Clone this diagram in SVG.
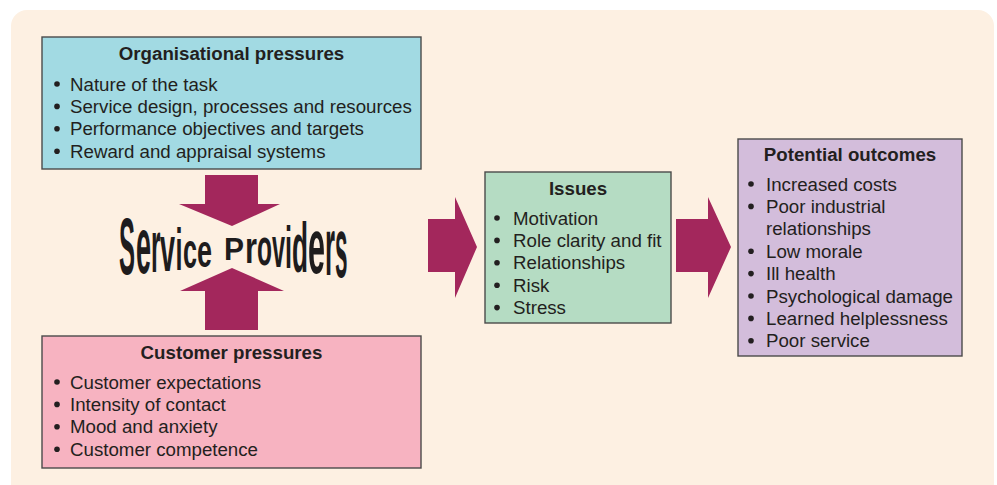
<svg xmlns="http://www.w3.org/2000/svg" width="997" height="485" viewBox="0 0 997 485">
<style>
.box{stroke:#4a4a4a;stroke-width:1.4}
.t{font-family:"Liberation Sans",Arial,Helvetica,sans-serif;font-size:18.7px;fill:#231f20}
.h{font-weight:bold;text-anchor:middle}
.b{fill:#231f20}
.arr{fill:#a3275c}
.sp{font-family:"Liberation Sans",Arial,Helvetica,sans-serif;font-weight:bold;fill:#1e1c1d}
</style>
<rect x="0" y="0" width="997" height="485" fill="#ffffff"/>
<rect x="11" y="10" width="983" height="490" rx="16" fill="#fdf0e2"/>

<g id="connectors">
<path class="arr" d="M205 175H258V204H280L232 226L179 204H205Z"/>
<path class="arr" d="M205 330H258V291H284L232 268L180 291H205Z"/>
<path class="arr" d="M428 219H455V197L477 247L455 298V272H428Z"/>
<path class="arr" d="M676 219H708V197L731 247L708 298V272H676Z"/>
</g>

<g id="organisational">
<rect class="box" x="42" y="37" width="379" height="132" fill="#a2dae3"/>
<text class="t h" x="231.5" y="59.6">Organisational pressures</text>
<g class="b"><circle cx="57" cy="84" r="2.8"/><circle cx="57" cy="106.4" r="2.8"/><circle cx="57" cy="128.8" r="2.8"/><circle cx="57" cy="151.2" r="2.8"/></g>
<text class="t" x="70" y="90.5">Nature of the task</text>
<text class="t" x="70" y="112.9">Service design, processes and resources</text>
<text class="t" x="70" y="135.3">Performance objectives and targets</text>
<text class="t" x="70" y="157.7">Reward and appraisal systems</text>
</g>

<g id="service-providers">
<text class="sp"><tspan x="119" y="274" font-size="79" textLength="16" lengthAdjust="spacingAndGlyphs">S</tspan><tspan x="136" y="273" font-size="79" textLength="15" lengthAdjust="spacingAndGlyphs">e</tspan><tspan x="151" y="272" font-size="75" textLength="9.5" lengthAdjust="spacingAndGlyphs">r</tspan><tspan x="160" y="271" font-size="65" textLength="15" lengthAdjust="spacingAndGlyphs">v</tspan><tspan x="175.5" y="270" font-size="60" textLength="7" lengthAdjust="spacingAndGlyphs">i</tspan><tspan x="183" y="268" font-size="50" textLength="14" lengthAdjust="spacingAndGlyphs">c</tspan><tspan x="197" y="267" font-size="46" textLength="15" lengthAdjust="spacingAndGlyphs">e</tspan><tspan> </tspan><tspan x="224" y="260" font-size="31" textLength="20" lengthAdjust="spacingAndGlyphs">P</tspan><tspan x="245" y="263" font-size="44" textLength="12" lengthAdjust="spacingAndGlyphs">r</tspan><tspan x="257" y="265" font-size="52" textLength="15" lengthAdjust="spacingAndGlyphs">o</tspan><tspan x="272" y="267" font-size="58" textLength="13" lengthAdjust="spacingAndGlyphs">v</tspan><tspan x="285" y="268" font-size="60" textLength="7" lengthAdjust="spacingAndGlyphs">i</tspan><tspan x="292" y="272" font-size="70" textLength="16" lengthAdjust="spacingAndGlyphs">d</tspan><tspan x="308" y="273" font-size="77" textLength="17" lengthAdjust="spacingAndGlyphs">e</tspan><tspan x="325" y="275" font-size="81" textLength="10" lengthAdjust="spacingAndGlyphs">r</tspan><tspan x="335" y="277" font-size="85" textLength="12.5" lengthAdjust="spacingAndGlyphs">s</tspan></text>
</g>

<g id="customer">
<rect class="box" x="42" y="336" width="379" height="132" fill="#f7b3c1"/>
<text class="t h" x="231.5" y="358.6">Customer pressures</text>
<g class="b"><circle cx="57" cy="382" r="2.8"/><circle cx="57" cy="404.4" r="2.8"/><circle cx="57" cy="426.8" r="2.8"/><circle cx="57" cy="449.2" r="2.8"/></g>
<text class="t" x="70" y="388.5">Customer expectations</text>
<text class="t" x="70" y="410.9">Intensity of contact</text>
<text class="t" x="70" y="433.3">Mood and anxiety</text>
<text class="t" x="70" y="455.7">Customer competence</text>
</g>

<g id="issues">
<rect class="box" x="485" y="172" width="186" height="151" fill="#b5dcc3"/>
<text class="t h" x="578" y="194.6">Issues</text>
<g class="b"><circle cx="497" cy="218" r="2.8"/><circle cx="497" cy="240.4" r="2.8"/><circle cx="497" cy="262.8" r="2.8"/><circle cx="497" cy="285.2" r="2.8"/><circle cx="497" cy="307.6" r="2.8"/></g>
<text class="t" x="513" y="224.5">Motivation</text>
<text class="t" x="513" y="246.9">Role clarity and fit</text>
<text class="t" x="513" y="269.3">Relationships</text>
<text class="t" x="513" y="291.7">Risk</text>
<text class="t" x="513" y="314.1">Stress</text>
</g>

<g id="outcomes">
<rect class="box" x="738" y="139" width="224" height="217" fill="#d3bddb"/>
<text class="t h" x="850" y="160.6">Potential outcomes</text>
<g class="b"><circle cx="751" cy="184" r="2.8"/><circle cx="751" cy="206.4" r="2.8"/><circle cx="751" cy="251.2" r="2.8"/><circle cx="751" cy="273.6" r="2.8"/><circle cx="751" cy="296" r="2.8"/><circle cx="751" cy="318.4" r="2.8"/><circle cx="751" cy="340.8" r="2.8"/></g>
<text class="t" x="766" y="190.5">Increased costs</text>
<text class="t" x="766" y="212.9">Poor industrial</text>
<text class="t" x="766" y="235.3">relationships</text>
<text class="t" x="766" y="257.7">Low morale</text>
<text class="t" x="766" y="280.1">Ill health</text>
<text class="t" x="766" y="302.5">Psychological damage</text>
<text class="t" x="766" y="324.9">Learned helplessness</text>
<text class="t" x="766" y="347.3">Poor service</text>
</g>
</svg>
